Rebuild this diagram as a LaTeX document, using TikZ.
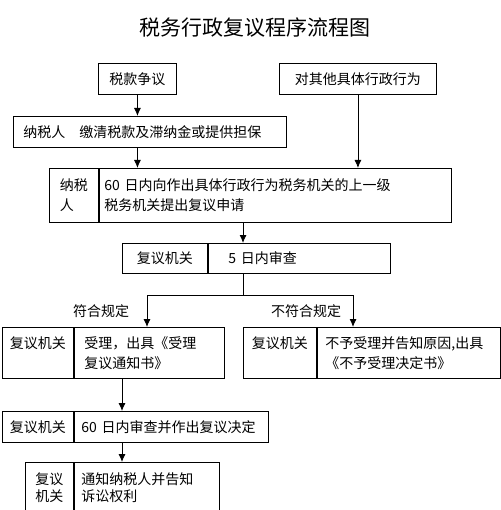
\documentclass[tikz,border=0pt]{standalone}
\usepackage{fontspec}
\setmainfont{Noto Sans CJK SC}
\usetikzlibrary{positioning,arrows.meta}
\tikzset{
    cell/.style = {draw, rectangle, anchor=north west, inner sep=0pt,
        align=left, font=\fontsize{14}{20}\selectfont},
    arrow/.style = {draw, -{Latex[length=8pt,width=7pt]}},
    tag/.style = {font=\fontsize{14}{20}\selectfont}
}

\begin{document}
\begin{tikzpicture}[x=1pt, y=-1pt, line width=0.9pt]
  \useasboundingbox (0,0) rectangle (500,510);
  \node[tag, font=\fontsize{21}{24}\selectfont] (title) at (255,28) {税务行政复议程序流程图};
  % sources
  \node[cell, align=center, minimum width=78pt, minimum height=31pt] (dispute) at (98,63) {税款争议};
  \node[cell, align=center, minimum width=157pt, minimum height=31pt] (other) at (279,63) {对其他具体行政行为};
  \node[cell, minimum width=273pt, minimum height=31pt, text width=253pt] (pay) at (13,116) {纳税人\quad 缴清税款及滞纳金或提供担保};
  % application
  \node[cell, minimum width=49pt, minimum height=54pt, text width=28pt] (applyL) at (49,168) {纳税\\人};
  \node[cell, minimum width=352pt, minimum height=54pt, text width=342pt, right=0pt of applyL] (applyR) {60~日内向作出具体行政行为税务机关的上一级\\税务机关提出复议申请};
  % review
  \node[cell, align=center, minimum width=85pt, minimum height=30pt] (reviewL) at (122,243) {复议机关};
  \node[cell, minimum width=182pt, minimum height=30pt, text width=142pt, right=0pt of reviewL] (reviewR) {5~日内审查};
  % accept / reject
  \node[cell, align=center, minimum width=71pt, minimum height=51pt] (acceptL) at (2,327) {复议机关\\~};
  \node[cell, minimum width=150pt, minimum height=51pt, text width=130pt, right=0pt of acceptL] (acceptR) {受理，出具《受理\\复议通知书》};
  \node[cell, align=center, minimum width=73pt, minimum height=51pt] (rejectL) at (243,327) {复议机关\\~};
  \node[cell, minimum width=183pt, minimum height=51pt, text width=167pt, right=0pt of rejectL] (rejectR) {不予受理并告知原因,出具\\《不予受理决定书》};
  % decision
  \node[cell, align=center, minimum width=71pt, minimum height=31pt] (decideL) at (2,411) {复议机关};
  \node[cell, minimum width=194pt, minimum height=31pt, text width=180pt, right=0pt of decideL] (decideR) {60~日内审查并作出复议决定};
  \node[cell, align=center, minimum width=48pt, minimum height=50pt, font=\fontsize{14}{17}\selectfont] (notifyL) at (25,462) {复议\\机关};
  \node[cell, minimum width=145pt, minimum height=50pt, text width=131pt, font=\fontsize{14}{17}\selectfont, right=0pt of notifyL] (notifyR) {通知纳税人并告知\\诉讼权利};

  \coordinate (split) at (243,295);
  \coordinate (yes) at (147,295);
  \coordinate (no) at (353,295);
  \coordinate (col) at (122,0);

  \draw[arrow] (dispute) -- (dispute |- pay.north);
  \draw[arrow] (dispute |- pay.south) -- (dispute |- applyR.north);
  \draw[arrow] (other) -- (other |- applyR.north);
  \draw[arrow] (split |- applyR.south) -- (split |- reviewR.north);
  \draw (split |- reviewR.south) -- (split);
  \draw (yes) -- (no);
  \draw[arrow] (yes) -- node[tag, left=14pt] {符合规定} (yes |- acceptR.north);
  \draw[arrow] (no) -- node[tag, left=8pt] {不符合规定} (no |- rejectR.north);
  \draw[arrow] (col |- acceptR.south) -- (col |- decideR.north);
  \draw[arrow] (col |- decideR.south) -- (col |- notifyR.north);
\end{tikzpicture}
\end{document}
